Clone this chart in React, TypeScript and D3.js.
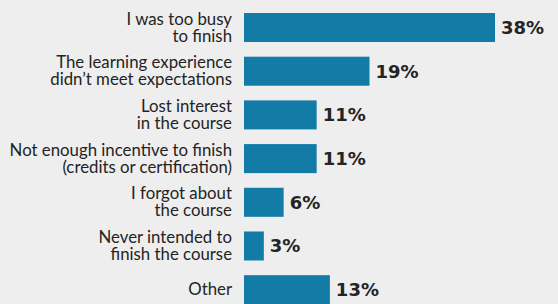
import * as d3 from "d3";

const categories = [
  "I was too busy\nto finish",
  "The learning experience\ndidn\u2019t meet expectations",
  "Lost interest\nin the course",
  "Not enough incentive to finish\n(credits or certification)",
  "I forgot about\nthe course",
  "Never intended to\nfinish the course",
  "Other",
];
const values = [38, 19, 11, 11, 6, 3, 13];

const width = 558;
const height = 304;

export default function App() {
  const x = d3.scaleLinear().domain([0, 38]).range([244, 495]);
  const y = d3
    .scaleBand<string>()
    .domain(categories)
    .range([13, 304.2])
    .paddingInner(0.336)
    .paddingOuter(0);
  const bw = y.bandwidth();
  const lineH = 17;

  return (
    <svg
      width={width}
      height={height}
      style={{ position: "absolute", top: 0, left: 0, display: "block" }}
    >
      <rect width={width} height={height} fill="#eeeeee" />
      {categories.map((cat, i) => {
        const y0 = y(cat) ?? 0;
        const cy = y0 + bw / 2;
        const lines = cat.split("\n");
        const firstBase = cy - ((lines.length - 1) * lineH) / 2 + 5.5;
        return (
          <g key={cat}>
            <rect x={x(0)} y={y0} width={x(values[i]) - x(0)} height={bw} fill="#127ba6" />
            {lines.map((l, j) => (
              <text
                key={j}
                x={232}
                y={firstBase + j * lineH}
                textAnchor="end"
                fontFamily="Lato, 'Open Sans', sans-serif"
                fontSize={16.8}
                fill="#242424"
              >
                {l}
              </text>
            ))}
            <text
              x={x(values[i]) + 6}
              y={cy + 6.5}
              fontFamily="'DejaVu Sans', sans-serif"
              fontWeight="bold"
              fontSize={18}
              fill="#242424"
            >
              {values[i]}%
            </text>
          </g>
        );
      })}
    </svg>
  );
}
